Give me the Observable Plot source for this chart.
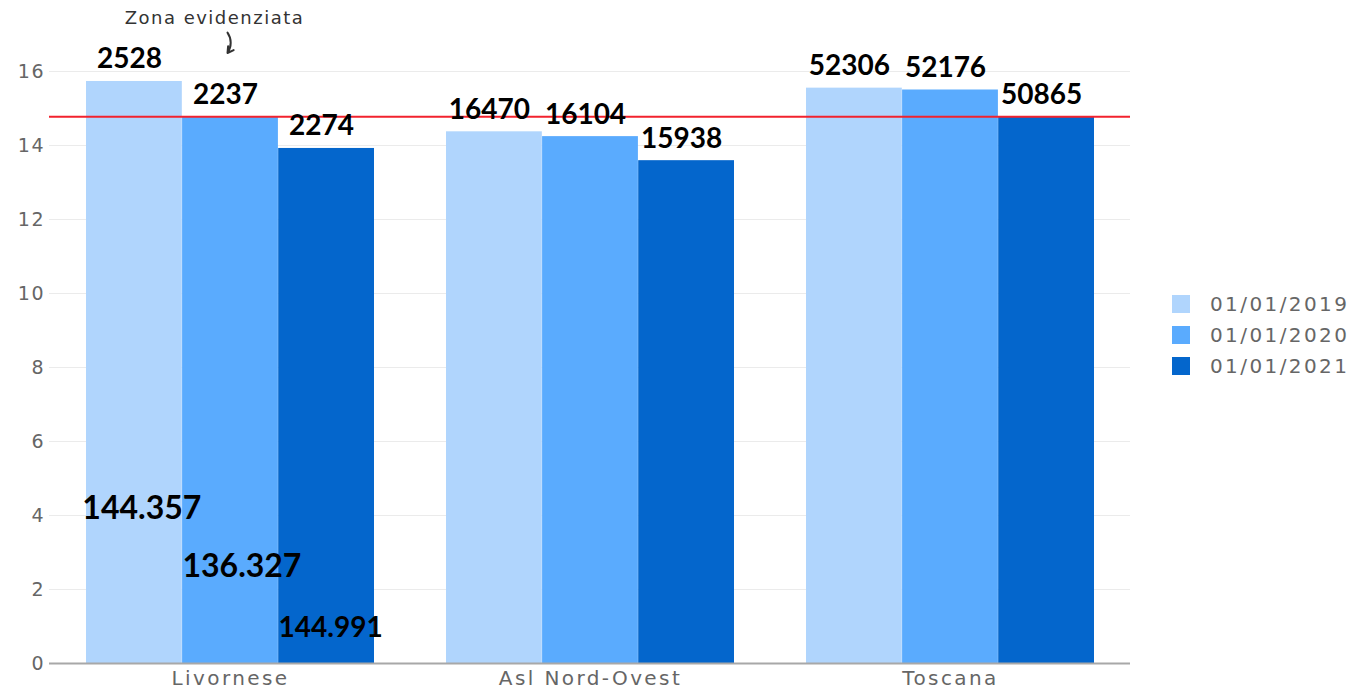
<!DOCTYPE html>
<html><head><meta charset="utf-8">
<script src="https://cdn.jsdelivr.net/npm/d3@7"></script>
<script src="https://cdn.jsdelivr.net/npm/@observablehq/plot@0.6"></script>
<style>
body{margin:0;background:#fff;}
#wrap{position:relative;width:1356px;height:693px;overflow:hidden;}
#legend{position:absolute;left:1172px;top:288px;}
#legend .lg-swatches, #legend .lg-swatch{font-family:"DejaVu Sans",sans-serif;font-size:20px;color:#666;}
#legend .lg-swatch{height:31px;letter-spacing:2.4px;padding:0;margin:0;}
#legend .lg-swatch > svg{margin-right:20px;}
g[aria-label="y-axis tick label"] text{letter-spacing:1.8px;font-size:19px;}
g[aria-label="x-axis tick label"] text{letter-spacing:2.4px;font-size:20px;}
</style></head><body><div id="wrap"><div id="legend"></div></div>
<script>
const categories = ["Livornese", "Asl Nord-Ovest", "Toscana"];
const series = ["01/01/2019", "01/01/2020", "01/01/2021"];
const colors = ["#b0d5fd", "#5aabfe", "#0466cc"];
const values2019 = [15.73, 14.37, 15.55];
const values2020 = [14.76, 14.24, 15.50];
const values2021 = [13.92, 13.59, 14.76];
const labels2019 = ["2528", "16470", "52306"];
const labels2020 = ["2237", "16104", "52176"];
const labels2021 = ["2274", "15938", "50865"];
const populationLabels = ["144.357", "136.327", "144.991"];
const populationLevels = [4.19, 2.62, 0.95];
const thresholdLevel = 14.78;
const yTicks = [0, 2, 4, 6, 8, 10, 12, 14, 16];
const annotationText = "Zona evidenziata";
const annotationCategory = "Livornese";
const annotationLevels = [17.45, 17.05, 16.5];

const valueSets = [values2019, values2020, values2021];
const labelSets = [labels2019, labels2020, labels2021];
const rows = [];
series.forEach((s, i) => categories.forEach((c, j) => rows.push({category: c, series: s, si: i, value: valueSets[i][j], label: labelSets[i][j]})));
const popRows = series.map((s, i) => ({category: "Livornese", series: s, si: i, level: populationLevels[i], text: populationLabels[i]}));

const W = 1356, H = 693, ML = 49, MR = 226, MT = 71, MB = 30;
const PI = 0.2, PO = 0.1;
const step = (W - ML - MR) / (categories.length - PI + 2 * PO);
const bw = step * (1 - PI);
const sub = bw / series.length;

const marks = [Plot.gridY(yTicks, {stroke: "#ebebeb", strokeOpacity: 1})];
series.forEach((s, i) => {
  marks.push(Plot.barY(rows.filter(d => d.si === i), {x: "category", y: "value", fill: "series", insetLeft: sub * i, insetRight: sub * (series.length - 1 - i)}));
});
marks.push(Plot.ruleY([0], {stroke: "#a8a8a8", strokeWidth: 2}));
marks.push(Plot.ruleY([thresholdLevel], {stroke: "#f2222e", strokeWidth: 2}));
series.forEach((s, i) => {
  marks.push(Plot.text(rows.filter(d => d.si === i), {x: "category", y: "value", text: "label", dx: -bw / 2 + sub * (i + 0.5) - 5, dy: -22, fontFamily: "Lato", fontWeight: 700, fontSize: 28, fill: "#000"}));
  marks.push(Plot.text(popRows.filter(d => d.si === i), {x: "category", y: "level", text: "text", textAnchor: "start", dx: -bw / 2 + sub * i - (i === 0 ? 4 : 0), fontFamily: "Lato", fontWeight: 700, fontSize: i === 2 ? 28 : 32, fill: "#000"}));
});
marks.push(Plot.text([annotationText], {x: () => annotationCategory, y: () => annotationLevels[0], text: d => d, dx: -16, fontFamily: "DejaVu Sans", fontSize: 18, fill: "#333"}));
marks.push(Plot.arrow([annotationCategory], {x1: d => d, x2: d => d, y1: () => annotationLevels[1], y2: () => annotationLevels[2], dx: -3, bend: 35, stroke: "#333", strokeWidth: 2, headLength: 7}));
marks.push(Plot.axisY({ticks: yTicks, tickSize: 0, tickPadding: 4, label: null}));
marks.push(Plot.axisX({tickSize: 0, tickPadding: 7, label: null}));

const chart = Plot.plot({
  width: W, height: H,
  marginLeft: ML, marginRight: MR, marginTop: MT, marginBottom: MB,
  style: {fontFamily: "DejaVu Sans", fontSize: "18px", color: "#666", background: "#fff"},
  x: {domain: categories, paddingInner: PI, paddingOuter: PO, align: 0.5},
  y: {domain: [0, 16]},
  color: {domain: series, range: colors},
  marks
});
d3.select(chart).selectAll("text").filter(function() { return this.textContent === annotationText; }).style("letter-spacing", "1.5px");
document.getElementById("wrap").prepend(chart);
const leg = chart.legend("color", {legend: "swatches", columns: 1, swatchSize: 18, className: "lg"});
document.getElementById("legend").appendChild(leg);
</script></body></html>
